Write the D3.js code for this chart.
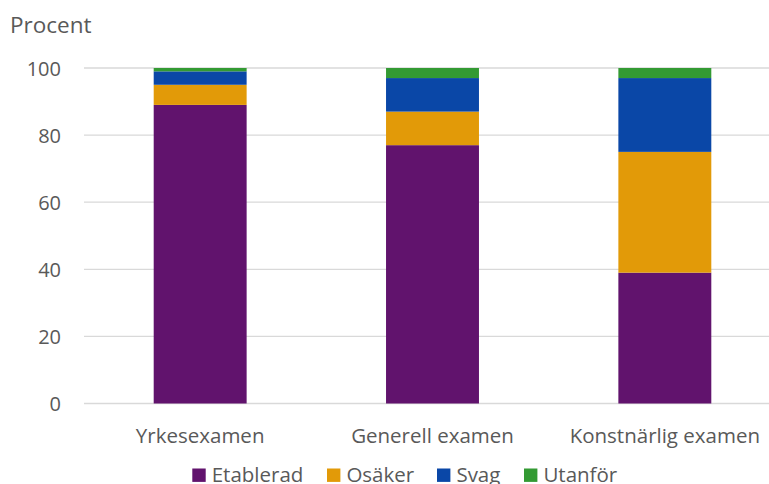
<!DOCTYPE html>
<html><head><meta charset="utf-8">
<script src="https://cdn.jsdelivr.net/npm/d3@7"></script>
<style>body{margin:0;background:#fff}text{font-family:"Open Sans",sans-serif}</style>
</head><body><svg id="c" width="769" height="484"></svg>
<script>
const categories = ["Yrkesexamen", "Generell examen", "Konstnärlig examen"];
const seriesNames = ["Etablerad", "Osäker", "Svag", "Utanför"];
const etablerad = [89, 77, 39];
const osaker = [6, 10, 36];
const svag = [4, 10, 22];
const utanfor = [1, 3, 3];
const yTicks = [0, 20, 40, 60, 80, 100];
const colors = ["#61136d", "#e29a08", "#0a47a7", "#339a33"];

const svg = d3.select("#c");
const x = d3.scaleBand().domain(categories).range([84, 781]).paddingInner(0.6).paddingOuter(0.3);
const y = d3.scaleLinear().domain([0, 100]).range([403.5, 68]);

const rows = categories.map((c, i) => ({cat: c, Etablerad: etablerad[i], "Osäker": osaker[i], Svag: svag[i], "Utanför": utanfor[i]}));
const stack = d3.stack().keys(seriesNames)(rows);

svg.append("g").selectAll("line").data(yTicks).join("line")
  .attr("x1", 84).attr("x2", 769)
  .attr("y1", d => y(d)).attr("y2", d => y(d))
  .attr("stroke", "#d9d9d9").attr("stroke-width", 1.3);

const yAxis = svg.append("g").attr("transform", "translate(61,0)")
  .call(d3.axisLeft(y).tickValues(yTicks).tickSize(0).tickPadding(0));
yAxis.select(".domain").remove();
yAxis.selectAll("text").attr("fill", "#595959").style("font-size", "20px").attr("dy", "0.35em");

svg.append("g").selectAll("g").data(stack).join("g")
  .attr("fill", (d, i) => colors[i])
  .selectAll("rect").data(d => d).join("rect")
  .attr("x", d => x(d.data.cat))
  .attr("width", x.bandwidth())
  .attr("y", d => y(d[1]))
  .attr("height", d => y(d[0]) - y(d[1]));

const xAxis = svg.append("g").attr("transform", "translate(0,428)")
  .call(d3.axisBottom(x).tickSize(0).tickPadding(0));
xAxis.select(".domain").remove();
xAxis.selectAll("text").attr("fill", "#595959").style("font-size", "20.5px").attr("dy", "0.71em");

svg.append("text").attr("x", 10).attr("y", 33).attr("fill", "#595959").style("font-size", "22.5px").text("Procent");

const legendX = [192.3, 327, 437, 524];
const lg = svg.append("g").selectAll("g").data(seriesNames).join("g")
  .attr("transform", (d, i) => `translate(${legendX[i]},468.5)`);
lg.append("rect").attr("width", 13.4).attr("height", 13.4).attr("fill", (d, i) => colors[i]);
lg.append("text").attr("x", 19.4).attr("y", 13.3).attr("fill", "#595959").style("font-size", "20.5px").text(d => d);
</script></body></html>
